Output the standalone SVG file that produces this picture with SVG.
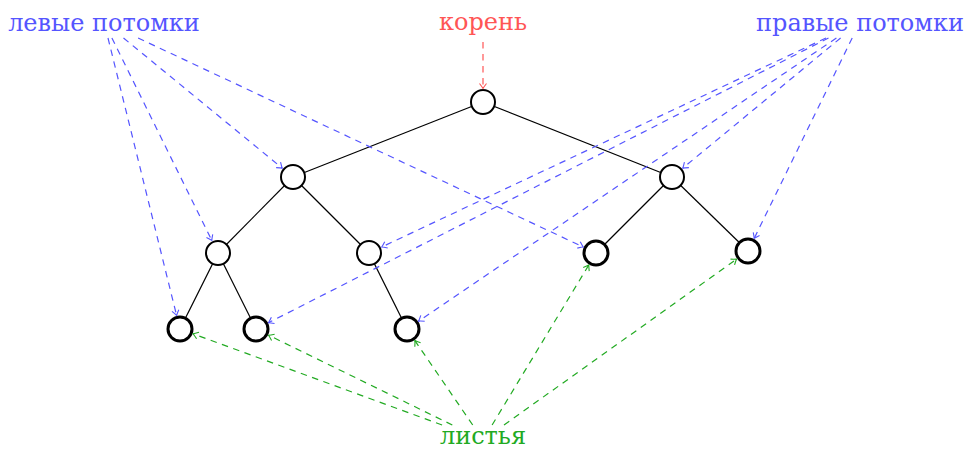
<svg xmlns="http://www.w3.org/2000/svg" width="965" height="450" viewBox="0 0 965 450">
<style>
.lbl{font-family:"DejaVu Serif","Liberation Serif",serif;font-size:24px}
.edge{stroke:#000;stroke-width:1.2;fill:none}
.inner{fill:#fff;stroke:#000;stroke-width:2}
.leaf{fill:#fff;stroke:#000;stroke-width:3}
.blue{stroke:#5555ff;stroke-width:1.2;fill:none;stroke-dasharray:6.5 5.5}
.red{stroke:#ff5555;stroke-width:1.2;fill:none;stroke-dasharray:6.5 5.5}
.green{stroke:#22aa22;stroke-width:1.2;fill:none;stroke-dasharray:6.5 5.5}
</style>
<defs>
<marker id="ab" markerUnits="userSpaceOnUse" markerWidth="12" markerHeight="12" refX="0" refY="0" viewBox="-6 -6 12 12" orient="auto" overflow="visible"><path d="M-5,-3.5 Q-1.5,-0.8 0,0 Q-1.5,0.8 -5,3.5" fill="none" stroke="#5555ff" stroke-width="1.1"/></marker>
<marker id="ar" markerUnits="userSpaceOnUse" markerWidth="12" markerHeight="12" refX="0" refY="0" viewBox="-6 -6 12 12" orient="auto" overflow="visible"><path d="M-5,-3.5 Q-1.5,-0.8 0,0 Q-1.5,0.8 -5,3.5" fill="none" stroke="#ff5555" stroke-width="1.1"/></marker>
<marker id="ag" markerUnits="userSpaceOnUse" markerWidth="12" markerHeight="12" refX="0" refY="0" viewBox="-6 -6 12 12" orient="auto" overflow="visible"><path d="M-5,-3.5 Q-1.5,-0.8 0,0 Q-1.5,0.8 -5,3.5" fill="none" stroke="#22aa22" stroke-width="1.1"/></marker>
</defs>
<g id="tree-edges">
<line class="edge" x1="483" y1="102" x2="293" y2="177"/>
<line class="edge" x1="483" y1="102" x2="672" y2="177"/>
<line class="edge" x1="293" y1="177" x2="218" y2="253"/>
<line class="edge" x1="293" y1="177" x2="369" y2="253"/>
<line class="edge" x1="672" y1="177" x2="596" y2="253"/>
<line class="edge" x1="672" y1="177" x2="748" y2="251"/>
<line class="edge" x1="218" y1="253" x2="180" y2="329"/>
<line class="edge" x1="218" y1="253" x2="256" y2="329"/>
<line class="edge" x1="369" y1="253" x2="407" y2="329"/>
</g>
<g id="n-root"><circle class="inner" cx="483" cy="102" r="12"/></g>
<g id="n-l"><circle class="inner" cx="293" cy="177" r="12"/></g>
<g id="n-r"><circle class="inner" cx="672" cy="177" r="12"/></g>
<g id="n-ll"><circle class="inner" cx="218" cy="253" r="12"/></g>
<g id="n-lr"><circle class="inner" cx="369" cy="253" r="12"/></g>
<g id="n-rl"><circle class="leaf" cx="596" cy="253" r="12"/></g>
<g id="n-rr"><circle class="leaf" cx="748" cy="251" r="12"/></g>
<g id="n-lll"><circle class="leaf" cx="180" cy="329" r="12"/></g>
<g id="n-llr"><circle class="leaf" cx="256" cy="329" r="12"/></g>
<g id="n-lrr"><circle class="leaf" cx="407" cy="329" r="12"/></g>
<g id="label-left"><text class="lbl" x="104" y="31" fill="#5555ff" text-anchor="middle">левые потомки</text></g>
<g id="label-root"><text class="lbl" x="483" y="30" fill="#ff5555" text-anchor="middle">корень</text></g>
<g id="label-right"><text class="lbl" x="860" y="31" fill="#5555ff" text-anchor="middle">правые потомки</text></g>
<g id="label-leaves"><text class="lbl" x="483" y="444" fill="#22aa22" text-anchor="middle">листья</text></g>
<g id="connectors">
<line class="blue" x1="108" y1="38" x2="176.6" y2="315.4" marker-end="url(#ab)"/>
<line class="blue" x1="111.9" y1="38" x2="211.8" y2="240.4" marker-end="url(#ab)"/>
<line class="blue" x1="123.5" y1="38" x2="282.2" y2="168.1" marker-end="url(#ab)"/>
<line class="blue" x1="138.1" y1="38" x2="583.3" y2="247.05" marker-end="url(#ab)"/>
<line class="blue" x1="840.6" y1="38" x2="682.8" y2="168.1" marker-end="url(#ab)"/>
<line class="blue" x1="852.2" y1="38" x2="754.2" y2="238.4" marker-end="url(#ab)"/>
<line class="blue" x1="826" y1="38" x2="381.7" y2="247" marker-end="url(#ab)"/>
<line class="blue" x1="828.5" y1="38" x2="268.5" y2="322.7" marker-end="url(#ab)"/>
<line class="blue" x1="836.4" y1="38" x2="418.6" y2="321.1" marker-end="url(#ab)"/>
<line class="red" x1="483" y1="42" x2="483" y2="88.5" marker-end="url(#ar)"/>
<line class="green" x1="442.1" y1="425" x2="193.1" y2="333.8" marker-end="url(#ag)"/>
<line class="green" x1="452.3" y1="425" x2="268.6" y2="335.2" marker-end="url(#ag)"/>
<line class="green" x1="472.7" y1="425" x2="414.9" y2="340.6" marker-end="url(#ag)"/>
<line class="green" x1="492.1" y1="425" x2="588.8" y2="265" marker-end="url(#ag)"/>
<line class="green" x1="504" y1="425" x2="736.6" y2="259.1" marker-end="url(#ag)"/>
</g>
</svg>
